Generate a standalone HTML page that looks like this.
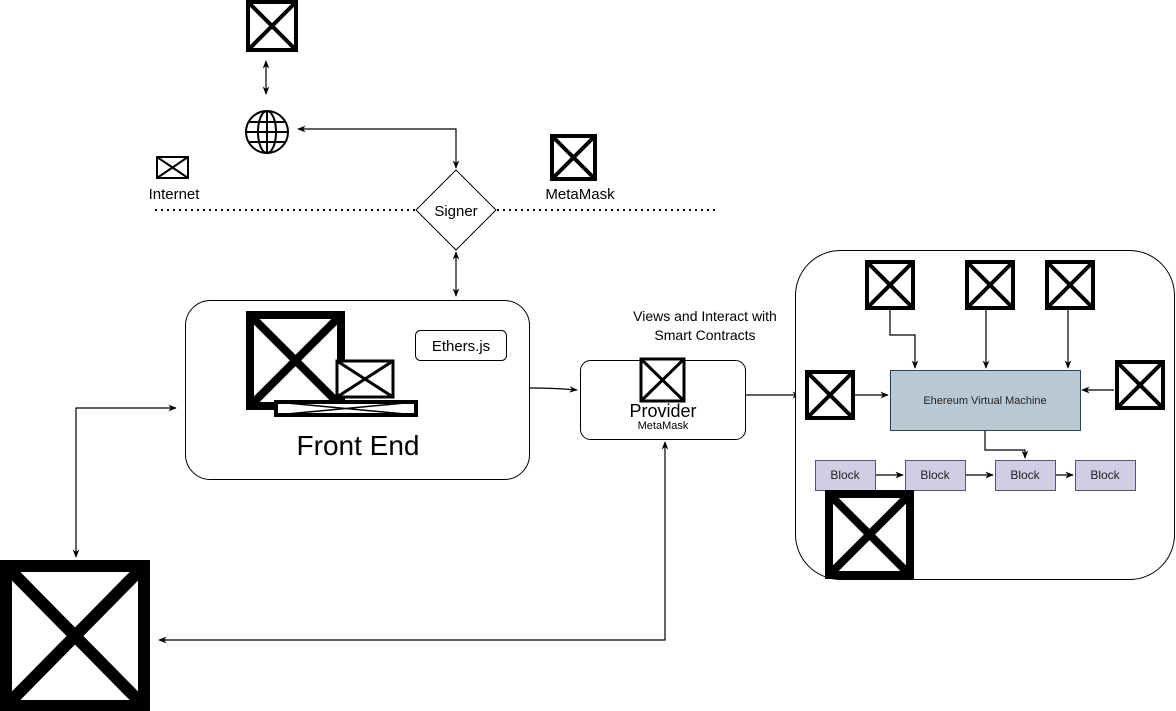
<!DOCTYPE html>
<html><head><style>html,body{margin:0;padding:0;background:#fff}svg{display:block}</style></head><body>
<svg width="1176" height="711" viewBox="0 0 1176 711" xmlns="http://www.w3.org/2000/svg" font-family="Liberation Sans, sans-serif">
<defs>
<marker id="a" viewBox="0 0 10 10" refX="9" refY="5" markerWidth="7" markerHeight="7" orient="auto-start-reverse"><path d="M0,1 L10,5 L0,9 L3,5z" fill="#000"/></marker>
</defs>
<g fill="#fff" stroke="#000">
<g stroke-width="4"><rect x="248" y="2" width="48" height="48"/><path d="M248,2L296,50M296,2L248,50"/></g>
<g stroke-width="2"><rect x="157" y="157" width="31" height="21"/><path d="M157,157L188,178M188,157L157,178"/></g>
<g stroke-width="4"><rect x="552" y="136" width="43" height="43"/><path d="M552,136L595,179M595,136L552,179"/></g>
</g>
<g fill="none" stroke="#000" stroke-width="2"><circle cx="267" cy="132" r="21"/><ellipse cx="267" cy="132" rx="9" ry="21"/><path d="M246,132H288M249,122H285M249,142H285M267,111V153"/></g>
<g fill="none" stroke="#000" stroke-width="1.2">
<path d="M266,61V94" marker-start="url(#a)" marker-end="url(#a)"/>
<path d="M298,129H456V168" marker-start="url(#a)" marker-end="url(#a)"/>
<path d="M456,252V296" marker-start="url(#a)" marker-end="url(#a)"/>
<path d="M155,210H415M497,210H715" stroke-dasharray="2,4" stroke-width="2"/>
<path d="M530,388Q555,388 577,390" marker-end="url(#a)"/>
<path d="M745,395H800" marker-end="url(#a)"/>
<path d="M176,408H76V557" marker-start="url(#a)" marker-end="url(#a)"/>
<path d="M665,442V640H159" marker-start="url(#a)" marker-end="url(#a)"/>
</g>
<polygon points="456,170 496,210 456,250 416,210" fill="#fff" stroke="#000"/>
<text x="456" y="216" font-size="15" text-anchor="middle">Signer</text>
<text x="174" y="199" font-size="15" text-anchor="middle">Internet</text>
<text x="580" y="199" font-size="15" text-anchor="middle">MetaMask</text>
<rect x="185.5" y="300.5" width="344" height="179" rx="25" fill="#fff" stroke="#000"/>
<g fill="#fff" stroke="#000">
<g stroke-width="8"><rect x="250" y="315" width="91" height="91"/><path d="M250,315L341,406M341,315L250,406"/></g>
<g stroke-width="3"><rect x="337" y="361" width="56" height="36"/><path d="M337,361L393,397M393,361L337,397"/></g>
<g stroke-width="4"><rect x="276" y="402" width="140" height="13"/><path d="M276,402L416,415M416,402L276,415" stroke-width="1.5"/></g>
</g>
<rect x="415.5" y="330.5" width="91" height="30" rx="5" fill="#fff" stroke="#000"/>
<text x="461" y="351" font-size="15" text-anchor="middle">Ethers.js</text>
<text x="358" y="455" font-size="28" text-anchor="middle">Front End</text>
<text x="705" y="321" font-size="14" text-anchor="middle">Views and Interact with</text>
<text x="705" y="340" font-size="14" text-anchor="middle">Smart Contracts</text>
<rect x="580.5" y="360.5" width="165" height="79" rx="10" fill="#fff" stroke="#000"/>
<g fill="#fff" stroke="#000" stroke-width="3"><rect x="641" y="359" width="43" height="42"/><path d="M641,359L684,401M684,359L641,401"/></g>
<text x="663" y="417" font-size="18" text-anchor="middle">Provider</text>
<text x="663" y="429" font-size="11" text-anchor="middle">MetaMask</text>
<rect x="795.5" y="250.5" width="379" height="329" rx="45" fill="#fff" stroke="#000"/>
<g fill="none" stroke="#000" stroke-width="1.2">
<path d="M890,309V335H915V368" marker-end="url(#a)"/>
<path d="M986,309V368" marker-end="url(#a)"/>
<path d="M1068,290V368" marker-end="url(#a)"/>
<path d="M855,395H888" marker-end="url(#a)"/>
<path d="M1114,390H1082" marker-end="url(#a)"/>
<path d="M985,431V450H1025V458" marker-end="url(#a)"/>
<path d="M875,475H903" marker-end="url(#a)"/>
<path d="M965,475H993" marker-end="url(#a)"/>
<path d="M1055,475H1073" marker-end="url(#a)"/>
</g>
<g fill="#fff" stroke="#000" stroke-width="4">
<rect x="867" y="262" width="46" height="46"/><path d="M867,262L913,308M913,262L867,308"/>
<rect x="967" y="262" width="46" height="46"/><path d="M967,262L1013,308M1013,262L967,308"/>
<rect x="1047" y="262" width="46" height="46"/><path d="M1047,262L1093,308M1093,262L1047,308"/>
<rect x="807" y="372" width="46" height="46"/><path d="M807,372L853,418M853,372L807,418"/>
<rect x="1117" y="362" width="46" height="46"/><path d="M1117,362L1163,408M1163,362L1117,408"/>
</g>
<rect x="890.5" y="370.5" width="190" height="60" fill="#bac8d3" stroke="#23445d"/>
<text x="985" y="404" font-size="11" text-anchor="middle" fill="#222">Ehereum Virtual Machine</text>
<g fill="#d0cee2" stroke="#56517e">
<rect x="815.5" y="460.5" width="60" height="30"/><rect x="905.5" y="460.5" width="60" height="30"/><rect x="995.5" y="460.5" width="60" height="30"/><rect x="1075.5" y="460.5" width="60" height="30"/>
</g>
<g font-size="12" text-anchor="middle" fill="#222"><text x="845" y="479">Block</text><text x="935" y="479">Block</text><text x="1025" y="479">Block</text><text x="1105" y="479">Block</text></g>
<g fill="#fff" stroke="#000" stroke-width="8"><rect x="829" y="494" width="81" height="81"/><path d="M829,494L910,575M910,494L829,575"/></g>
<g fill="#fff" stroke="#000" stroke-width="12"><rect x="6" y="566" width="138" height="140"/><path d="M6,566L144,706M144,566L6,706"/></g>
</svg>
</body></html>
